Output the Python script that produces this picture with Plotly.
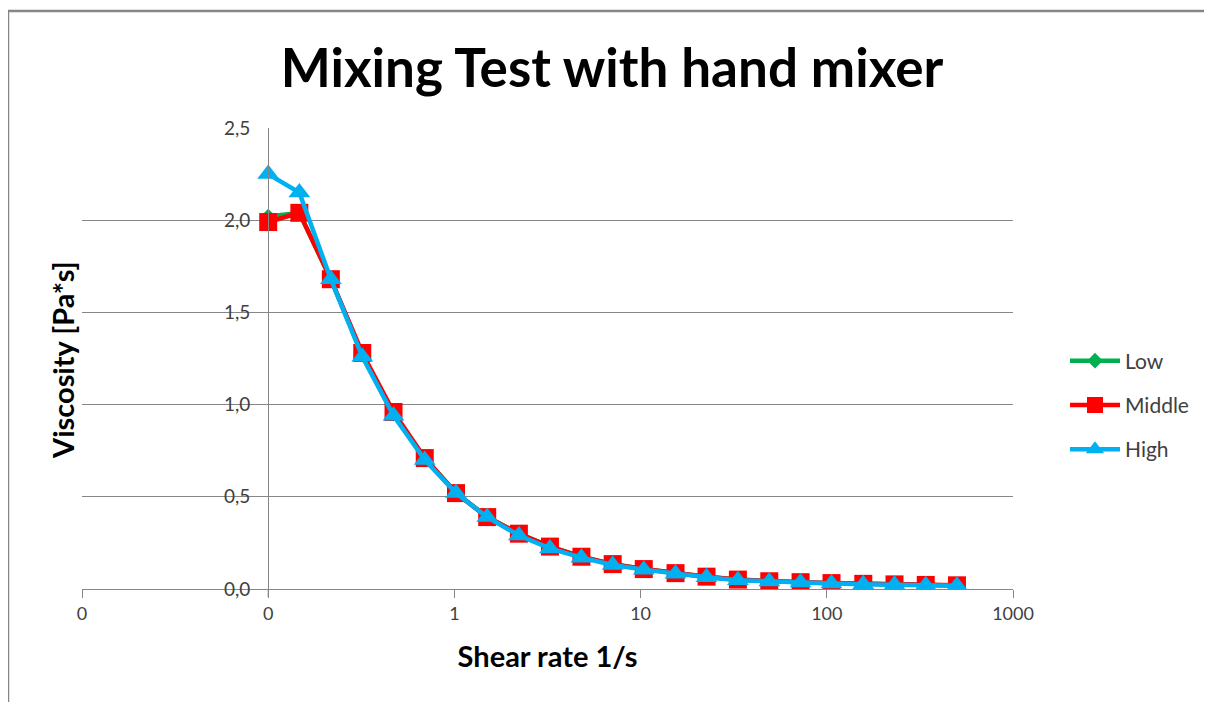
import plotly.graph_objects as go

shear_rate = [0.1, 0.147, 0.217, 0.320, 0.471, 0.693, 1.02, 1.50, 2.22, 3.26, 4.81, 7.08,
              10.4, 15.4, 22.6, 33.3, 49.1, 72.3, 106, 157, 231, 340, 500]
low = [2.02, 2.04, 1.68, 1.27, 0.95, 0.71, 0.52, 0.39, 0.30, 0.23, 0.175, 0.135,
       0.108, 0.085, 0.066, 0.050, 0.041, 0.036, 0.031, 0.027, 0.024, 0.021, 0.019]
middle = [1.99, 2.04, 1.68, 1.28, 0.96, 0.71, 0.52, 0.39, 0.30, 0.23, 0.175, 0.135,
          0.108, 0.086, 0.067, 0.051, 0.042, 0.037, 0.032, 0.028, 0.025, 0.022, 0.020]
high = [2.25, 2.15, 1.68, 1.26, 0.94, 0.70, 0.52, 0.39, 0.29, 0.22, 0.170, 0.130,
        0.105, 0.083, 0.064, 0.048, 0.040, 0.035, 0.030, 0.026, 0.023, 0.020, 0.018]

x_tickvals = [0.01, 0.1, 1, 10, 100, 1000]
x_ticktext = ["0", "0", "1", "10", "100", "1000"]
y_tickvals = [0, 0.5, 1.0, 1.5, 2.0, 2.5]
y_ticktext = ["0,0", "0,5", "1,0", "1,5", "2,0", "2,5"]

FONT = "Lato"
GRID = "#868686"
OFF = 8  # page body margin

W, H = 1212 - OFF, 702 - OFF
PL, PR, PT, PB = 82 - OFF, 1013 - OFF, 128 - OFF, 589 - OFF  # plot area in div px
PW, PH = PR - PL, PB - PT


def px(xpix):
    return (xpix - OFF - PL) / PW


def py(ypix):
    return (PB - (ypix - OFF)) / PH


fig = go.Figure()
fig.add_trace(go.Scatter(x=shear_rate, y=low, name="Low", mode="lines+markers",
                         line=dict(color="#00B050", width=4.5),
                         marker=dict(symbol="diamond", size=12, color="#00B050"),
                         legendgroup="a"))
fig.add_trace(go.Scatter(x=shear_rate, y=middle, name="Middle", mode="lines+markers",
                         line=dict(color="#FF0000", width=4.5),
                         marker=dict(symbol="square", size=18, color="#FF0000"),
                         legendgroup="b"))
fig.add_trace(go.Scatter(x=shear_rate, y=high, name="High", mode="lines+markers",
                         line=dict(color="#00B0F0", width=4.5),
                         marker=dict(symbol="triangle-up", size=19, color="#00B0F0"),
                         legendgroup="c"))

fig.update_layout(
    width=W, height=H,
    margin=dict(l=PL, r=W - PR, t=PT, b=H - PB),
    paper_bgcolor="white", plot_bgcolor="white",
    font=dict(family=FONT, color="#404040", size=18),
    title=dict(text="<b>Mixing Test with hand mixer</b>", x=(612 - OFF) / W, xanchor="center",
               y=1 - (68 - OFF) / H, yanchor="middle",
               font=dict(family=FONT, size=53, color="black")),
    showlegend=True,
    legend=dict(x=px(1065), xanchor="left", y=py(405), yanchor="middle",
                font=dict(family=FONT, size=21, color="#404040"),
                traceorder="grouped", tracegroupgap=14, itemwidth=50,
                bgcolor="rgba(0,0,0,0)"),
    xaxis=dict(type="log", range=[-2, 3], tickvals=x_tickvals, ticktext=x_ticktext,
               showgrid=False, zeroline=False, showline=True, linecolor=GRID, linewidth=1,
               ticks="outside", ticklen=8, tickcolor=GRID,
               tickfont=dict(family=FONT, size=18, color="#404040"),
               title=dict(text="<b>Shear rate 1/s</b>", standoff=24,
                          font=dict(family=FONT, size=29, color="black"))),
    yaxis=dict(range=[0, 2.5], tickvals=y_tickvals, ticktext=y_ticktext,
               anchor="free", position=0.2,
               showgrid=True, gridcolor=GRID, gridwidth=1, zeroline=False,
               showline=True, linecolor=GRID, linewidth=1,
               ticks="", ticklabelstandoff=14,
               tickfont=dict(family=FONT, size=19, color="#404040")),
)

# y-axis title
fig.add_annotation(text="<b>Viscosity [Pa*s]</b>", xref="paper", yref="paper",
                   x=px(62), y=py(360), textangle=-90,
                   showarrow=False, xanchor="center", yanchor="middle",
                   font=dict(family=FONT, size=29, color="black"))

# short extension of the vertical axis below the x-axis (Excel crossing tick)
fig.add_shape(type="line", xref="x", yref="paper",
              x0=x_tickvals[1], x1=x_tickvals[1], y0=0, y1=py(597),
              line=dict(color=GRID, width=1))

# outer chart border (top and left edges visible)
fig.add_shape(type="line", xref="paper", yref="paper",
              x0=px(8), x1=px(1220), y0=py(11), y1=py(11),
              line=dict(color=GRID, width=2.5))
fig.add_shape(type="line", xref="paper", yref="paper",
              x0=px(8), x1=px(8), y0=py(11), y1=py(710),
              line=dict(color=GRID, width=2.5))

fig.write_html("out.html")
